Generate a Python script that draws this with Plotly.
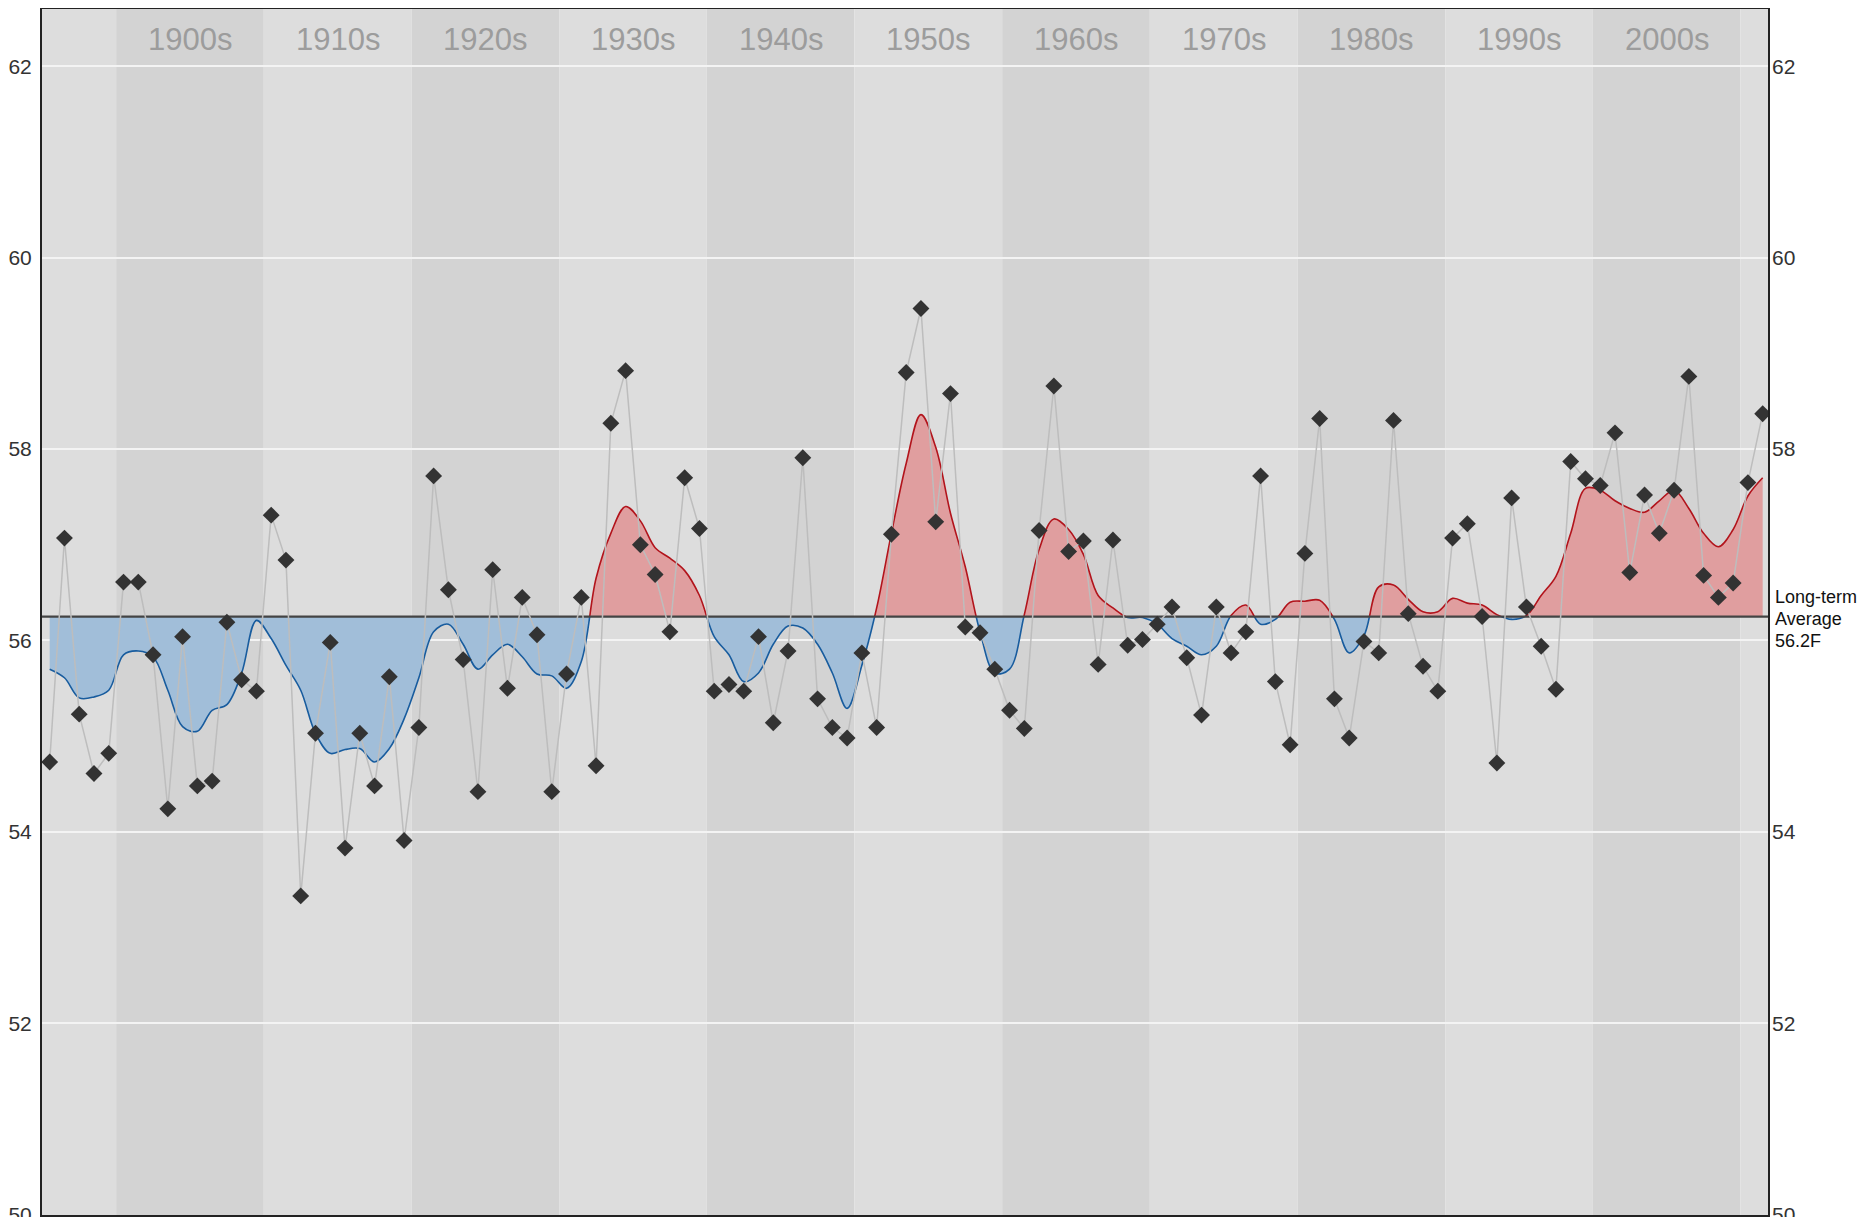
import plotly.graph_objects as go

# ---------------- data ----------------
years = list(range(1895, 2012))
temps = [
    54.73, 57.07, 55.23, 54.61, 54.82,                      # 1895-1899
    56.61, 56.61, 55.85, 54.24, 56.04, 54.48, 54.53, 56.19, 55.59, 55.47,  # 1900s
    57.31, 56.84, 53.33, 55.03, 55.98, 53.83, 55.03, 54.48, 55.62, 53.91,  # 1910s
    55.09, 57.72, 56.53, 55.80, 54.42, 56.74, 55.50, 56.45, 56.06, 54.42,  # 1920s
    55.65, 56.45, 54.69, 58.27, 58.82, 57.00, 56.69, 56.09, 57.70, 57.17,  # 1930s
    55.47, 55.54, 55.47, 56.04, 55.14, 55.89, 57.91, 55.39, 55.09, 54.98,  # 1940s
    55.87, 55.09, 57.11, 58.80, 59.47, 57.24, 58.58, 56.14, 56.08, 55.70,  # 1950s
    55.27, 55.08, 57.15, 58.66, 56.93, 57.04, 55.75, 57.05, 55.95, 56.01,  # 1960s
    56.17, 56.35, 55.82, 55.22, 56.35, 55.87, 56.09, 57.72, 55.57, 54.91,  # 1970s
    56.91, 58.32, 55.39, 54.98, 55.99, 55.87, 58.30, 56.28, 55.73, 55.47,  # 1980s
    57.07, 57.22, 56.25, 54.72, 57.49, 56.35, 55.94, 55.49, 57.87, 57.69,  # 1990s
    57.62, 58.17, 56.71, 57.52, 57.12, 57.57, 58.76, 56.68, 56.45, 56.60,  # 2000s
    57.65, 58.37,                                                          # 2010-2011
]
smooth = [
    55.70, 55.61, 55.40, 55.41, 55.48,
    55.85, 55.89, 55.83, 55.48, 55.10, 55.05, 55.27, 55.33, 55.66, 56.21,
    56.02, 55.74, 55.48, 55.03, 54.82, 54.86, 54.87, 54.73, 54.87, 55.18,
    55.61, 56.09, 56.17, 55.96, 55.70, 55.85, 55.96, 55.83, 55.65, 55.63,
    55.50, 55.78, 56.65, 57.12, 57.40, 57.25, 56.97, 56.86, 56.73, 56.47,
    56.04, 55.85, 55.57, 55.66, 55.96, 56.15, 56.13, 55.96, 55.66, 55.29,
    55.74, 56.34, 57.12, 57.85, 58.36, 58.02, 57.33, 56.77, 56.09, 55.66,
    55.70, 56.27, 56.95, 57.27, 57.16, 56.90, 56.47, 56.34, 56.24, 56.24,
    56.17, 56.02, 55.94, 55.85, 55.94, 56.26, 56.37, 56.17, 56.22, 56.40,
    56.41, 56.42, 56.22, 55.87, 56.05, 56.56, 56.58, 56.43, 56.30, 56.30,
    56.44, 56.39, 56.37, 56.27, 56.22, 56.26, 56.47, 56.67, 57.12, 57.59,
    57.57, 57.46, 57.38, 57.34, 57.46, 57.57, 57.38, 57.12, 56.98, 57.16,
    57.51, 57.70,
]
long_term_avg = 56.25
avg_label_lines = ["Long-term", "Average", "56.2F"]
decades = list(range(1890, 2020, 10))
labelled_decades = list(range(1900, 2010, 10))
left_ticks = [50, 52, 54, 56, 58, 60, 62]
right_ticks = [50, 52, 54, 58, 60, 62]

# ---------------- layout constants ----------------
X_RANGE = [1894.48, 2011.36]
Y_RANGE = [49.995, 62.6]
W, H = 1855, 1209          # page body keeps an 8px margin around the figure
FONT = "Liberation Sans, Arial, Helvetica, sans-serif"
LIGHT_BAND = "#dddddd"
DARK_BAND = "#d3d3d3"
RED_FILL = "#e09e9f"
RED_LINE = "#b2141c"
BLUE_FILL = "#a1bed9"
BLUE_LINE = "#185c9e"

split = (long_term_avg - Y_RANGE[0]) / (Y_RANGE[1] - Y_RANGE[0])
n = len(years)
baseline = [long_term_avg] * n

fig = go.Figure()

# warm part (clipped by upper subplot)
fig.add_trace(go.Scatter(x=years, y=baseline, mode="lines", line=dict(width=0),
                         xaxis="x", yaxis="y2", hoverinfo="skip", showlegend=False))
fig.add_trace(go.Scatter(x=years, y=smooth, mode="lines", fill="tonexty",
                         fillcolor=RED_FILL,
                         line=dict(color=RED_LINE, width=1.6, shape="spline", smoothing=1.0),
                         xaxis="x", yaxis="y2", showlegend=False))
# cool part (clipped by lower subplot)
fig.add_trace(go.Scatter(x=years, y=baseline, mode="lines", line=dict(width=0),
                         xaxis="x", yaxis="y3", hoverinfo="skip", showlegend=False))
fig.add_trace(go.Scatter(x=years, y=smooth, mode="lines", fill="tonexty",
                         fillcolor=BLUE_FILL,
                         line=dict(color=BLUE_LINE, width=1.6, shape="spline", smoothing=1.0),
                         xaxis="x", yaxis="y3", showlegend=False))

# long-term average line
fig.add_trace(go.Scatter(x=X_RANGE, y=[long_term_avg, long_term_avg], mode="lines",
                         line=dict(color="#444444", width=2.2),
                         xaxis="x", yaxis="y4", hoverinfo="skip", showlegend=False))
# annual values
fig.add_trace(go.Scatter(x=years, y=temps, mode="lines",
                         line=dict(color="#bdbdbd", width=1.5),
                         xaxis="x", yaxis="y4", hoverinfo="skip", showlegend=False))
fig.add_trace(go.Scatter(x=years, y=temps, mode="markers",
                         marker=dict(symbol="diamond", size=13, color="#333333"),
                         xaxis="x", yaxis="y4", showlegend=False))

# decade background bands
shapes = []
for i, d in enumerate(decades):
    shapes.append(dict(type="rect", xref="x", yref="paper",
                       x0=d - 0.5, x1=d + 9.5, y0=0, y1=1,
                       fillcolor=DARK_BAND if i % 2 == 1 else LIGHT_BAND,
                       line=dict(width=0), layer="below"))

annotations = []
for d in labelled_decades:
    annotations.append(dict(x=d + 4.5, y=0.975, xref="x", yref="paper",
                            text=f"{d}s", showarrow=False,
                            font=dict(family=FONT, size=31, color="#9c9c9c"),
                            xanchor="center", yanchor="middle"))
for txt, shift in zip(avg_label_lines, [20, -2, -24]):
    annotations.append(dict(x=1, y=long_term_avg, xref="paper", yref="y",
                            text=txt, showarrow=False, xanchor="left", yanchor="middle",
                            xshift=5, yshift=shift,
                            font=dict(family=FONT, size=18, color="#111111")))

tickfont = dict(family=FONT, size=21, color="#333333")

fig.update_layout(
    width=W, height=H,
    margin=dict(l=34, r=95, t=1, b=2, autoexpand=False),
    paper_bgcolor="white",
    plot_bgcolor="rgba(0,0,0,0)",
    showlegend=False,
    shapes=shapes,
    annotations=annotations,
    xaxis=dict(range=X_RANGE, showgrid=False, zeroline=False, showticklabels=False,
               ticks="", showline=True, mirror=True, linecolor="#222222", linewidth=2,
               anchor="y", automargin=False),
    yaxis=dict(domain=[0, 1], range=Y_RANGE, tickvals=left_ticks, ticks="",
               showgrid=True, gridcolor="#f3f3f3", gridwidth=2, zeroline=False,
               showline=True, mirror=True, linecolor="#222222", linewidth=2,
               tickfont=tickfont, ticklabelstandoff=4, ticklabeloverflow="allow",
               anchor="x", automargin=False),
    yaxis2=dict(domain=[split, 1], range=[long_term_avg, Y_RANGE[1]], visible=False,
                anchor="x", showgrid=False, zeroline=False, automargin=False),
    yaxis3=dict(domain=[0, split], range=[Y_RANGE[0], long_term_avg], visible=False,
                anchor="x", showgrid=False, zeroline=False, automargin=False),
    yaxis4=dict(domain=[0, 1], range=Y_RANGE, tickvals=right_ticks, ticks="", side="right",
                anchor="x", showgrid=False, zeroline=False, showline=False,
                tickfont=tickfont, ticklabelstandoff=3, ticklabeloverflow="allow",
                automargin=False),
)

fig.write_html("out.html")
